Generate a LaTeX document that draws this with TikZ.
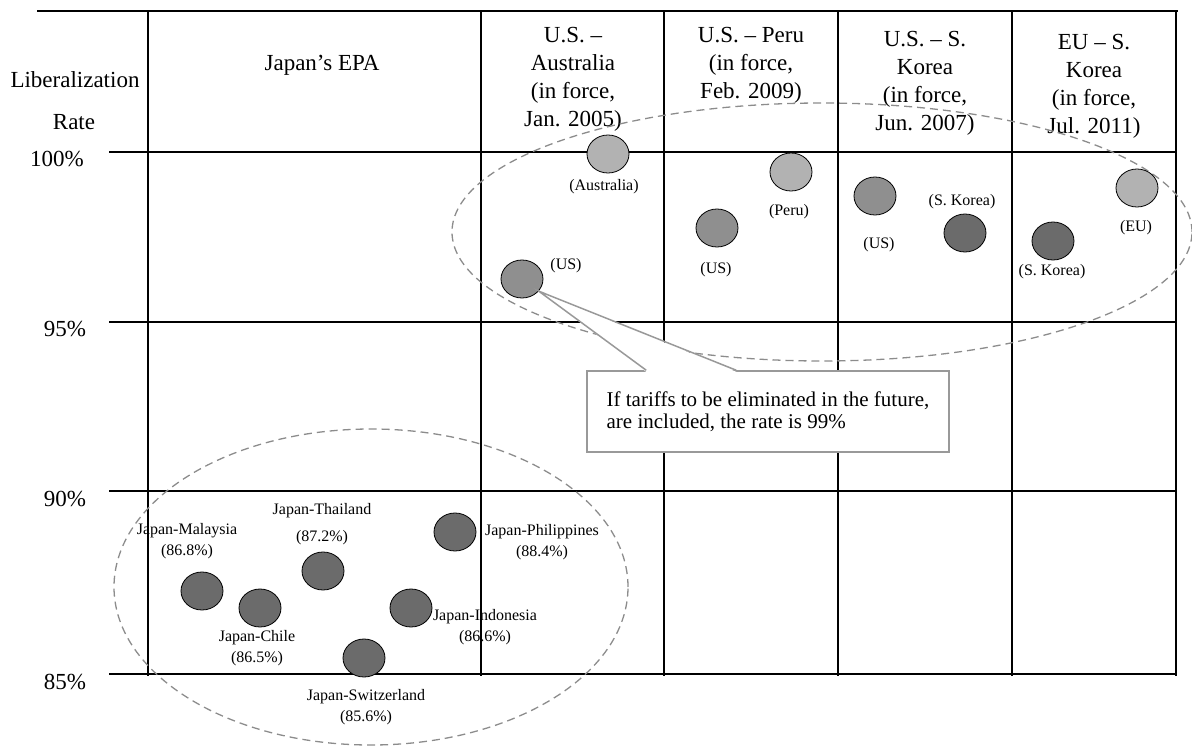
\documentclass[tikz,border=0pt]{standalone}
\usepackage{fontspec}
\setmainfont{Liberation Serif}
\usetikzlibrary{shapes.geometric}

\begin{document}
\begin{tikzpicture}[x=1pt, y=-1pt,
  gridline/.style={line width=1.9pt, black},
  ring/.style={dash pattern=on 8pt off 5pt, line width=1.3pt, black!45},
  bubble/.style={ellipse, draw=black, line width=0.8pt, minimum width=42pt, minimum height=38pt, inner sep=0pt},
  liteDot/.style={bubble, fill=black!30},
  midDot/.style={bubble, fill=black!44},
  darkDot/.style={bubble, fill=black!58},
  tag/.style={font=\fontsize{16}{21}\selectfont, align=center, inner sep=0pt},
  head/.style={font=\fontsize{23}{28}\selectfont, align=center, inner sep=0pt},
  rate/.style={font=\fontsize{23}{28}\selectfont, inner sep=0pt},
  notebox/.style={draw=black!40, line width=1.5pt, fill=white, minimum width=362pt, minimum height=81pt,
    inner xsep=16pt, align=left, font=\fontsize{21}{22}\selectfont}]
  \useasboundingbox (0,0) rectangle (1192,747);

  % Grid of the table
  \draw[gridline] (37,11) -- (1178,11);
  \foreach \y in {152,322,491,674}
    \draw[gridline] (109,\y) -- (1176,\y);
  \foreach \x in {148,481,664,838,1012,1176}
    \draw[gridline] (\x,11) -- (\x,676);

  % Axis labels
  \node[rate] (axisA) at (75,80) {Liberalization};
  \node[rate] (axisB) at (74,122) {Rate};
  \node[rate] (r100) at (57,159) {100\%};
  \node[rate] (r95) at (65,329) {95\%};
  \node[rate] (r90) at (65,499) {90\%};
  \node[rate] (r85) at (65,682) {85\%};

  % Column headers
  \node[head] (hJapan) at (322,65) {Japan’s EPA};
  \node[head] (hAus) at (573,79) {U.S. –\\Australia\\(in force,\\Jan. 2005)};
  \node[head] (hPeru) at (751,65.5) {U.S. – Peru\\(in force,\\Feb. 2009)};
  \node[head] (hKor) at (925,83) {U.S. – S.\\Korea\\(in force,\\Jun. 2007)};
  \node[head] (hEU) at (1094,86) {EU – S.\\Korea\\(in force,\\Jul. 2011)};

  % Groups
  \draw[ring] (822,232) ellipse [x radius=370pt, y radius=129pt];
  \draw[ring] (371,587) ellipse [x radius=257pt, y radius=158pt];

  % Other FTAs
  \node[liteDot] (ausA) at (608,154) {};
  \node[midDot] (ausU) at (522,279) {};
  \node[liteDot] (peruP) at (791,172) {};
  \node[midDot] (peruU) at (717,228) {};
  \node[midDot] (korU) at (875,196) {};
  \node[darkDot] (korK) at (965,233) {};
  \node[darkDot] (euK) at (1053,241) {};
  \node[liteDot] (euE) at (1137,188) {};

  \node[tag] (tAusA) at (604,187) {(Australia)};
  \node[tag] (tAusU) at (566,266) {(US)};
  \node[tag] (tPeruP) at (789,212) {(Peru)};
  \node[tag] (tPeruU) at (716,270) {(US)};
  \node[tag] (tKorU) at (879,245) {(US)};
  \node[tag] (tKorK) at (962,202) {(S. Korea)};
  \node[tag] (tEuK) at (1052,272) {(S. Korea)};
  \node[tag] (tEuE) at (1136,228) {(EU)};

  % Japan's EPAs
  \node[darkDot] (malay) at (202,591) {};
  \node[darkDot] (chile) at (260,608) {};
  \node[darkDot] (thai) at (323,571) {};
  \node[darkDot] (swiss) at (364,658) {};
  \node[darkDot] (indo) at (411,608) {};
  \node[darkDot] (phil) at (455,532) {};

  \node[tag] (tMalay) at (187,541.5) {Japan-Malaysia\\(86.8\%)};
  \node[tag] (tThai) at (322,524.5) {Japan-Thailand\\[6pt](87.2\%)};
  \node[tag] (tPhil) at (542,542.5) {Japan-Philippines\\(88.4\%)};
  \node[tag] (tChile) at (257,648) {Japan-Chile\\(86.5\%)};
  \node[tag] (tIndo) at (485,627) {Japan-Indonesia\\(86.6\%)};
  \node[tag] (tSwiss) at (366,707) {Japan-Switzerland\\(85.6\%)};

  % Callout
  \node[notebox] (note) at (768,411.5) {If tariffs to be eliminated in the future,\\are included, the rate is 99\%};
  \fill[white] ([xshift=60pt,yshift=-1.6pt]note.north west) -- (ausU.-36) -- ([xshift=150pt,yshift=-1.6pt]note.north west) -- cycle;
  \draw[draw=black!40, line width=1.5pt] ([xshift=60pt]note.north west) -- (ausU.-36) -- ([xshift=150pt]note.north west);
\end{tikzpicture}
\end{document}
